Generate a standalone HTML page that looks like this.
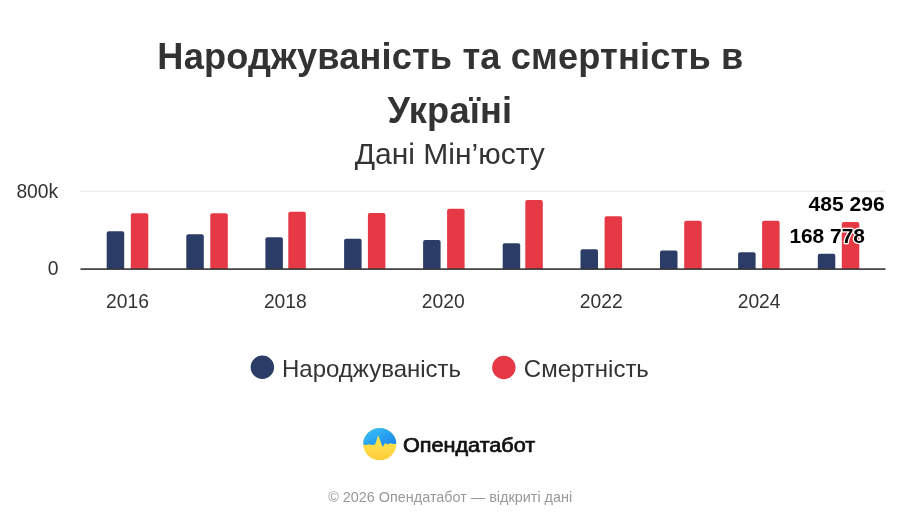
<!DOCTYPE html>
<html lang="uk">
<head>
<meta charset="utf-8">
<title>Народжуваність та смертність в Україні</title>
<style>
html,body{margin:0;padding:0;background:#fff;}
body{width:900px;height:525px;overflow:hidden;font-family:"Liberation Sans",Arial,sans-serif;}
svg{display:block;}
text{font-family:"Liberation Sans",Arial,sans-serif;}
.title{font-size:36.2px;font-weight:bold;fill:#333;letter-spacing:0.16px;}
.sub{font-size:30px;fill:#333;}
.ax{font-size:19.3px;fill:#333;}
.leg{font-size:24px;fill:#333;}
.dl{font-size:21.2px;font-weight:bold;fill:#000;stroke:#fff;stroke-width:2.4px;paint-order:stroke;stroke-linejoin:round;}
.foot{font-size:14.4px;fill:#999;}
.brand{font-size:19.7px;fill:#111;stroke:#111;stroke-width:0.7px;stroke-linejoin:round;}
</style>
</head>
<body>
<svg width="900" height="525" viewBox="0 0 900 525">
<defs>
<linearGradient id="gb" x1="0" y1="0" x2="1" y2="1"><stop offset="0.1" stop-color="#3ccbf6"/><stop offset="0.75" stop-color="#2090ee"/></linearGradient>
<linearGradient id="gy" x1="0" y1="0" x2="0" y2="1"><stop offset="0.45" stop-color="#ffe24c"/><stop offset="1" stop-color="#ffc738"/></linearGradient>
<clipPath id="cc"><ellipse cx="379.75" cy="444.1" rx="16.6" ry="16"/></clipPath>
</defs>
<rect width="900" height="525" fill="#fff"/>
<text class="title" x="450.4" y="68.9" text-anchor="middle">Народжуваність та смертність в</text>
<text class="title" x="449.9" y="122.8" text-anchor="middle">Україні</text>
<text class="sub" x="449.8" y="164.4" text-anchor="middle">Дані Мін’юсту</text>

<rect x="80" y="190.7" width="805.5" height="1" fill="#e6e6e6"/>
<text class="ax" x="58.2" y="197.8" text-anchor="end">800k</text>
<text class="ax" x="58.4" y="275.4" text-anchor="end">0</text>

<path d="M106.70 269.0V233.20Q106.70 231.20 108.70 231.20H122.20Q124.20 231.20 124.20 233.20V269.0Z" fill="#2b3c66"/>
<path d="M130.80 269.0V215.30Q130.80 213.30 132.80 213.30H146.30Q148.30 213.30 148.30 215.30V269.0Z" fill="#e63946"/>
<path d="M186.30 269.0V236.20Q186.30 234.20 188.30 234.20H201.80Q203.80 234.20 203.80 236.20V269.0Z" fill="#2b3c66"/>
<path d="M210.30 269.0V215.30Q210.30 213.30 212.30 213.30H225.80Q227.80 213.30 227.80 215.30V269.0Z" fill="#e63946"/>
<path d="M265.40 269.0V239.20Q265.40 237.20 267.40 237.20H280.90Q282.90 237.20 282.90 239.20V269.0Z" fill="#2b3c66"/>
<path d="M288.30 269.0V213.70Q288.30 211.70 290.30 211.70H303.80Q305.80 211.70 305.80 213.70V269.0Z" fill="#e63946"/>
<path d="M344.10 269.0V240.80Q344.10 238.80 346.10 238.80H359.60Q361.60 238.80 361.60 240.80V269.0Z" fill="#2b3c66"/>
<path d="M367.90 269.0V215.00Q367.90 213.00 369.90 213.00H383.40Q385.40 213.00 385.40 215.00V269.0Z" fill="#e63946"/>
<path d="M423.10 269.0V242.00Q423.10 240.00 425.10 240.00H438.60Q440.60 240.00 440.60 242.00V269.0Z" fill="#2b3c66"/>
<path d="M447.10 269.0V210.70Q447.10 208.70 449.10 208.70H462.60Q464.60 208.70 464.60 210.70V269.0Z" fill="#e63946"/>
<path d="M502.70 269.0V245.30Q502.70 243.30 504.70 243.30H518.20Q520.20 243.30 520.20 245.30V269.0Z" fill="#2b3c66"/>
<path d="M525.30 269.0V202.00Q525.30 200.00 527.30 200.00H540.80Q542.80 200.00 542.80 202.00V269.0Z" fill="#e63946"/>
<path d="M580.50 269.0V251.20Q580.50 249.20 582.50 249.20H596.00Q598.00 249.20 598.00 251.20V269.0Z" fill="#2b3c66"/>
<path d="M604.60 269.0V218.20Q604.60 216.20 606.60 216.20H620.10Q622.10 216.20 622.10 218.20V269.0Z" fill="#e63946"/>
<path d="M660.00 269.0V252.50Q660.00 250.50 662.00 250.50H675.50Q677.50 250.50 677.50 252.50V269.0Z" fill="#2b3c66"/>
<path d="M684.20 269.0V222.80Q684.20 220.80 686.20 220.80H699.70Q701.70 220.80 701.70 222.80V269.0Z" fill="#e63946"/>
<path d="M738.10 269.0V254.20Q738.10 252.20 740.10 252.20H753.60Q755.60 252.20 755.60 254.20V269.0Z" fill="#2b3c66"/>
<path d="M762.10 269.0V222.80Q762.10 220.80 764.10 220.80H777.60Q779.60 220.80 779.60 222.80V269.0Z" fill="#e63946"/>
<path d="M817.80 269.0V255.80Q817.80 253.80 819.80 253.80H833.30Q835.30 253.80 835.30 255.80V269.0Z" fill="#2b3c66"/>
<path d="M841.80 269.0V224.00Q841.80 222.00 843.80 222.00H857.30Q859.30 222.00 859.30 224.00V269.0Z" fill="#e63946"/>
<rect x="80.5" y="268.3" width="805" height="1.6" fill="#333"/>

<text class="ax" x="127.43" y="308.4" text-anchor="middle">2016</text>
<text class="ax" x="285.35" y="308.4" text-anchor="middle">2018</text>
<text class="ax" x="443.27" y="308.4" text-anchor="middle">2020</text>
<text class="ax" x="601.19" y="308.4" text-anchor="middle">2022</text>
<text class="ax" x="759.11" y="308.4" text-anchor="middle">2024</text>

<text class="dl" style="font-size:21.1px" x="884.8" y="211.3" text-anchor="end">485 296</text>
<text class="dl" style="font-size:20.9px" x="864.9" y="242.65" text-anchor="end">168 778</text>

<circle cx="262.35" cy="367.3" r="11.7" fill="#2b3c66"/>
<text class="leg" x="282" y="377.3">Народжуваність</text>
<circle cx="503.85" cy="367.5" r="11.7" fill="#e63946"/>
<text class="leg" x="523.8" y="377.3">Смертність</text>

<g clip-path="url(#cc)">
<rect x="360" y="424" width="40" height="40" fill="url(#gy)"/>
<path d="M360 424H400V443.5L393 444L390 443.2L387.5 444.5L385.2 443L382.6 447L380 440L378 435L376.4 441L375 444.5L372 445L369 444.2L366 445L360 444Z" fill="url(#gb)"/>
</g>
<text class="brand" transform="translate(402.9 451.6) scale(1.1 1)" x="0" y="0">Опендатабот</text>

<text class="foot" x="450.2" y="502.3" text-anchor="middle">© 2026 Опендатабот — відкриті дані</text>
</svg>
</body>
</html>
